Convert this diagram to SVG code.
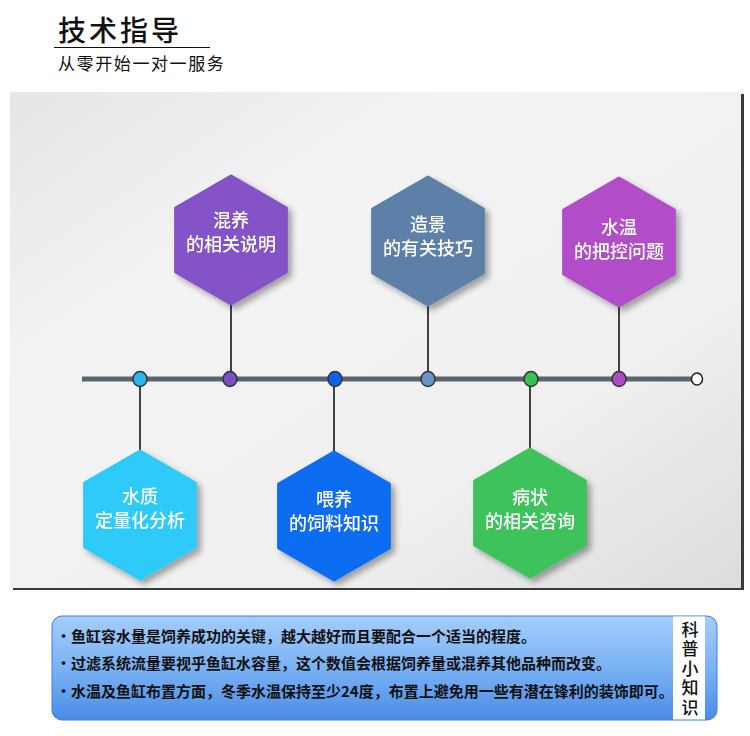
<svg xmlns="http://www.w3.org/2000/svg" width="750" height="736" viewBox="0 0 750 736">
<defs>
<style>
.cjk{font-family:"Noto Sans CJK SC","Noto Sans",sans-serif;}
.hx{font-family:"Noto Sans CJK SC",sans-serif;font-size:18px;fill:#fff;text-anchor:middle;font-weight:500;}
.conn{stroke:#3e4246;stroke-width:2;fill:none;}
.dot{stroke:#2c3440;stroke-width:1.5;}
.tip{font-family:"Noto Sans CJK SC",sans-serif;font-size:15px;fill:#111;font-weight:700;}
.vt{font-family:"Noto Sans CJK SC",sans-serif;font-size:17px;fill:#111;font-weight:500;writing-mode:vertical-rl;letter-spacing:2.4px;}
</style>
<linearGradient id="panelG" x1="0" y1="0" x2="1" y2="1">
<stop offset="0" stop-color="#e6e6e6"/>
<stop offset="0.3" stop-color="#f3f3f3"/>
<stop offset="0.7" stop-color="#f0f0f0"/>
<stop offset="1" stop-color="#dcdcdc"/>
</linearGradient>
<linearGradient id="boxG" x1="0" y1="0" x2="0" y2="1">
<stop offset="0" stop-color="#a3cdfb"/>
<stop offset="0.5" stop-color="#7ab2f4"/>
<stop offset="1" stop-color="#4a8ce6"/>
</linearGradient>
<filter id="sh" x="-20%" y="-20%" width="150%" height="150%">
<feGaussianBlur in="SourceAlpha" stdDeviation="3"/>
<feOffset dx="4" dy="4" result="b"/>
<feComponentTransfer><feFuncA type="linear" slope="0.35"/></feComponentTransfer>
<feMerge><feMergeNode/><feMergeNode in="SourceGraphic"/></feMerge>
</filter>
<polygon id="hex" points="0,-64 55.4,-32 55.4,32 0,64 -55.4,32 -55.4,-32" stroke-width="3" stroke-linejoin="round"/>
</defs>

<rect width="750" height="736" fill="#ffffff"/>

<!-- title -->
<g id="title">
<text x="58" y="41" class="cjk" font-size="28" font-weight="500" fill="#111" letter-spacing="3">技术指导</text>
<line x1="54" y1="47.5" x2="210" y2="47.5" stroke="#111" stroke-width="1.2"/>
<text x="58" y="69.5" class="cjk" font-size="17" fill="#111" letter-spacing="1.6">从零开始一对一服务</text>
</g>

<!-- panel -->
<g id="panel">
<rect x="13" y="94" width="731" height="496" fill="#3a3a3a"/>
<rect x="10" y="92" width="731" height="496" fill="url(#panelG)"/>
</g>

<!-- connectors -->
<g id="connectors">
<line x1="82" y1="379" x2="692" y2="379" stroke="#5a646e" stroke-width="5"/>
<line class="conn" x1="231" y1="302" x2="231" y2="372"/>
<line class="conn" x1="428" y1="303" x2="428" y2="372"/>
<line class="conn" x1="619" y1="304" x2="619" y2="372"/>
<line class="conn" x1="140" y1="386" x2="140" y2="452"/>
<line class="conn" x1="334" y1="386" x2="334" y2="454"/>
<line class="conn" x1="530" y1="386" x2="530" y2="450"/>
<ellipse class="dot" cx="140" cy="379" rx="7" ry="7.5" fill="#2ab8f2"/>
<ellipse class="dot" cx="230" cy="379" rx="7" ry="7.5" fill="#7a4fc2"/>
<ellipse class="dot" cx="335" cy="379" rx="7" ry="7.5" fill="#1060ea"/>
<ellipse class="dot" cx="428" cy="379" rx="7" ry="7.5" fill="#6a94c6"/>
<ellipse class="dot" cx="531" cy="379" rx="7" ry="7.5" fill="#3cc052"/>
<ellipse class="dot" cx="619" cy="379" rx="7" ry="7.5" fill="#b04cc2"/>
<ellipse cx="697" cy="379" rx="5.5" ry="6" fill="#fff" stroke="#222" stroke-width="1.5"/>
</g>

<!-- top hexagons -->
<g id="node-hunyang" filter="url(#sh)">
<use href="#hex" x="231" y="240" fill="#8452c8" stroke="#8452c8"/>
<text class="hx" x="231" y="227">混养</text>
<text class="hx" x="231" y="251">的相关说明</text>
</g>
<g id="node-zaojing" filter="url(#sh)">
<use href="#hex" x="428" y="241" fill="#5d80a8" stroke="#5d80a8"/>
<text class="hx" x="428" y="231">造景</text>
<text class="hx" x="428" y="255">的有关技巧</text>
</g>
<g id="node-shuiwen" filter="url(#sh)">
<use href="#hex" x="619" y="242" fill="#b14ec8" stroke="#b14ec8"/>
<text class="hx" x="619" y="234">水温</text>
<text class="hx" x="619" y="258">的把控问题</text>
</g>

<!-- bottom hexagons -->
<g id="node-shuizhi" filter="url(#sh)">
<use href="#hex" x="140" y="515" fill="#2dcbfa" stroke="#2dcbfa"/>
<text class="hx" x="140" y="503">水质</text>
<text class="hx" x="140" y="527">定量化分析</text>
</g>
<g id="node-weiyang" filter="url(#sh)">
<use href="#hex" x="334" y="516" fill="#116df2" stroke="#116df2"/>
<text class="hx" x="334" y="506">喂养</text>
<text class="hx" x="334" y="530">的饲料知识</text>
</g>
<g id="node-bingzhuang" filter="url(#sh)">
<use href="#hex" x="530" y="513" fill="#3ec25c" stroke="#3ec25c"/>
<text class="hx" x="530" y="504">病状</text>
<text class="hx" x="530" y="528">的相关咨询</text>
</g>

<!-- tips box -->
<g id="tips">
<rect x="52" y="616" width="665" height="104" rx="10" fill="url(#boxG)" stroke="#3f80dc" stroke-width="1"/>
<rect x="673" y="616.5" width="32" height="103" fill="#ffffff"/>
<text class="tip" x="56" y="642">·鱼缸容水量是饲养成功的关键，越大越好而且要配合一个适当的程度。</text>
<text class="tip" x="56" y="669">·过滤系统流量要视乎鱼缸水容量，这个数值会根据饲养量或混养其他品种而改变。</text>
<text class="tip" x="56" y="697">·水温及鱼缸布置方面，冬季水温保持至少24度，布置上避免用一些有潜在锋利的装饰即可。</text>
<text class="vt" x="690" y="621">科普小知识</text>
</g>
</svg>
